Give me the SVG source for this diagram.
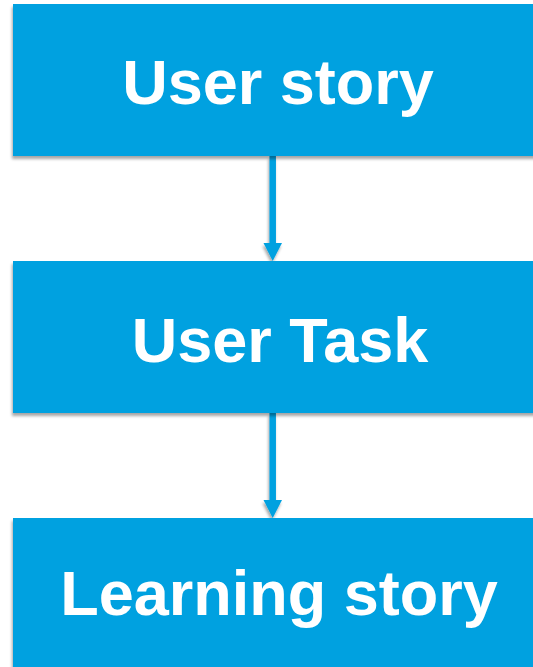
<svg xmlns="http://www.w3.org/2000/svg" width="533" height="667" viewBox="0 0 533 667">
<defs>
<filter id="sh" filterUnits="userSpaceOnUse" x="-20" y="-20" width="580" height="720">
<feGaussianBlur in="SourceAlpha" stdDeviation="1.8"/>
<feOffset dx="-1" dy="3" result="b"/>
<feComponentTransfer><feFuncA type="linear" slope="0.35"/></feComponentTransfer>
<feMerge><feMergeNode/><feMergeNode in="SourceGraphic"/></feMerge>
</filter>
<style>
.box{fill:#02A1E0;filter:url(#sh)}
.lbl{font-family:"Liberation Sans",Arial,sans-serif;font-weight:bold;fill:#fff;text-anchor:middle}
.conn{stroke:#02A1E0;stroke-width:6.5;fill:none;filter:url(#sh)}
.head{fill:#02A1E0;filter:url(#sh)}
</style>
</defs>
<rect width="533" height="667" fill="#fff"/>
<g id="connectors">
<line class="conn" x1="272.7" y1="156" x2="272.7" y2="244"/>
<path class="head" d="M263.5,243 L282,243 L272.7,261 Z"/>
<line class="conn" x1="272.7" y1="413" x2="272.7" y2="501"/>
<path class="head" d="M263.5,500 L282,500 L272.7,518 Z"/>
</g>
<g id="node1">
<rect class="box" x="13" y="4" width="530" height="152"/>
<text class="lbl" x="278" y="103.5" font-size="63">User story</text>
</g>
<g id="node2">
<rect class="box" x="13" y="261" width="530" height="152"/>
<text class="lbl" x="280" y="361.5" font-size="63">User Task</text>
</g>
<g id="node3">
<rect class="box" x="13" y="518" width="530" height="160"/>
<text class="lbl" x="279" y="615" font-size="63">Learning story</text>
</g>
</svg>
